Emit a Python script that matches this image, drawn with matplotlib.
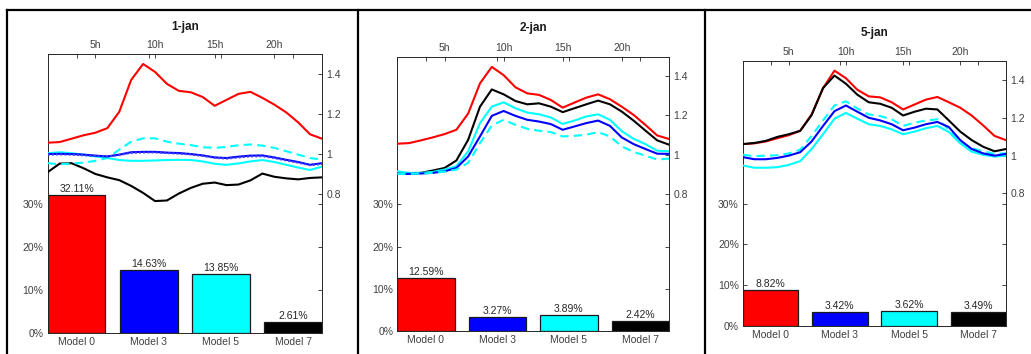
import numpy as np
import matplotlib
matplotlib.use('Agg')
import matplotlib.pyplot as plt
from matplotlib.lines import Line2D

plt.rcParams['font.family'] = ['Liberation Sans', 'DejaVu Sans']

W, H = 1031, 354

hours = np.arange(1, 25)
hour_ticks = [5, 10, 15, 20]
models = ['Model 0', 'Model 3', 'Model 5', 'Model 7']
bar_colors = ['#ff0000', '#0000ff', '#00ffff', '#000000']
days = ['1-jan', '2-jan', '5-jan']

# share of error per model (%)
share_1jan = [32.11, 14.63, 13.85, 2.61]
share_2jan = [12.59, 3.27, 3.89, 2.42]
share_5jan = [8.82, 3.42, 3.62, 3.49]

# hourly profiles, 1-jan
red_1jan = [1.055, 1.058, 1.075, 1.092, 1.105, 1.128, 1.21, 1.37, 1.45, 1.41, 1.35, 1.315,
            1.308, 1.284, 1.24, 1.27, 1.30, 1.31, 1.28, 1.246, 1.207, 1.157, 1.097, 1.075]
black_1jan = [0.907, 0.95, 0.952, 0.927, 0.898, 0.881, 0.867, 0.838, 0.803, 0.762, 0.765, 0.80,
              0.828, 0.849, 0.855, 0.842, 0.845, 0.866, 0.90, 0.884, 0.876, 0.871, 0.878, 0.881]
cyan_dash_1jan = [0.952, 0.947, 0.95, 0.955, 0.964, 0.978, 1.02, 1.06, 1.077, 1.077, 1.06, 1.05,
                  1.043, 1.032, 1.029, 1.034, 1.042, 1.046, 1.04, 1.029, 1.012, 0.995, 0.978, 0.97]
blue_1jan = [0.998, 0.999, 0.998, 0.995, 0.99, 0.986, 0.995, 1.007, 1.009, 1.009, 1.005, 1.003,
             0.998, 0.991, 0.981, 0.978, 0.985, 0.99, 0.991, 0.981, 0.969, 0.958, 0.944, 0.952]
blue_dot_1jan = [0.995, 0.996, 0.995, 0.992, 0.988, 0.986, 0.993, 1.004, 1.006, 1.006, 1.003, 1.0,
                 0.996, 0.989, 0.979, 0.975, 0.981, 0.986, 0.987, 0.978, 0.966, 0.955, 0.942, 0.948]
cyan_1jan = [1.002, 1.007, 1.002, 0.995, 0.986, 0.978, 0.968, 0.964, 0.964, 0.966, 0.968, 0.969,
             0.968, 0.961, 0.949, 0.944, 0.951, 0.961, 0.968, 0.958, 0.944, 0.93, 0.918, 0.935]

# hourly profiles, 2-jan
red_2jan = [1.056, 1.059, 1.073, 1.088, 1.105, 1.127, 1.21, 1.364, 1.448, 1.406, 1.344, 1.313,
            1.305, 1.279, 1.24, 1.266, 1.291, 1.308, 1.283, 1.245, 1.203, 1.152, 1.098, 1.08]
black_2jan = [0.904, 0.904, 0.907, 0.919, 0.932, 0.97, 1.076, 1.245, 1.333, 1.308, 1.274, 1.257,
              1.262, 1.245, 1.217, 1.237, 1.257, 1.276, 1.257, 1.22, 1.174, 1.123, 1.073, 1.051]
cyan_2jan = [0.915, 0.907, 0.907, 0.912, 0.924, 0.941, 1.017, 1.161, 1.245, 1.267, 1.237, 1.215,
             1.206, 1.19, 1.157, 1.174, 1.195, 1.206, 1.178, 1.12, 1.081, 1.054, 1.02, 1.017]
blue_2jan = [0.902, 0.902, 0.904, 0.907, 0.915, 0.932, 0.991, 1.093, 1.198, 1.223, 1.198, 1.178,
             1.169, 1.156, 1.127, 1.144, 1.161, 1.174, 1.147, 1.088, 1.054, 1.029, 1.005, 1.004]
cyan_dash_2jan = [0.902, 0.902, 0.904, 0.907, 0.913, 0.924, 0.958, 1.059, 1.149, 1.178, 1.152, 1.132,
                  1.122, 1.115, 1.093, 1.096, 1.102, 1.115, 1.093, 1.042, 1.014, 0.995, 0.975, 0.98]

# hourly profiles, 5-jan
red_5jan = [1.061, 1.065, 1.075, 1.092, 1.108, 1.131, 1.218, 1.357, 1.449, 1.409, 1.348, 1.313,
            1.308, 1.282, 1.244, 1.27, 1.296, 1.31, 1.282, 1.253, 1.212, 1.16, 1.104, 1.082]
black_5jan = [1.061, 1.067, 1.078, 1.099, 1.113, 1.131, 1.214, 1.357, 1.423, 1.38, 1.322, 1.282,
              1.274, 1.253, 1.212, 1.232, 1.248, 1.244, 1.186, 1.127, 1.082, 1.047, 1.023, 1.035]
cyan_dash_5jan = [1.005, 0.997, 1.0, 1.002, 1.012, 1.031, 1.104, 1.186, 1.265, 1.287, 1.249, 1.218,
                  1.209, 1.192, 1.157, 1.174, 1.186, 1.192, 1.139, 1.075, 1.039, 1.023, 1.009, 1.012]
blue_5jan = [0.992, 0.981, 0.981, 0.988, 1.0, 1.018, 1.075, 1.157, 1.235, 1.265, 1.232, 1.2,
             1.186, 1.166, 1.134, 1.148, 1.166, 1.178, 1.151, 1.082, 1.035, 1.012, 1.0, 1.009]
cyan_5jan = [0.948, 0.936, 0.936, 0.939, 0.951, 0.971, 1.035, 1.113, 1.195, 1.226, 1.195, 1.166,
             1.157, 1.139, 1.113, 1.127, 1.145, 1.157, 1.125, 1.065, 1.021, 1.004, 0.995, 1.0]

DASH = (0, (4, 2.5))
DOT = (0, (1, 1))

# (series, color, style) drawn in order
lines_1jan = [(red_1jan, '#ff0000', '-'), (black_1jan, '#000000', '-'),
              (cyan_dash_1jan, '#00ffff', DASH), (cyan_1jan, '#00ffff', '-'),
              (blue_1jan, '#0000ff', '-'), (blue_dot_1jan, '#4040ff', DOT)]
lines_2jan = [(red_2jan, '#ff0000', '-'), (black_2jan, '#000000', '-'),
              (cyan_2jan, '#00ffff', '-'), (blue_2jan, '#0000ff', '-'),
              (cyan_dash_2jan, '#00ffff', DASH)]
lines_5jan = [(red_5jan, '#ff0000', '-'), (black_5jan, '#000000', '-'),
              (cyan_dash_5jan, '#00ffff', DASH), (cyan_5jan, '#00ffff', '-'),
              (blue_5jan, '#0000ff', '-')]

# axes boxes in pixels: left, right, top, bottom
boxes = [(47.7, 322, 54, 333), (397.3, 669, 56.7, 331), (743, 1006, 61, 326)]
title_y = [27, 28, 33]

TXT = '#404040'

fig = plt.figure(figsize=(W / 100, H / 100), dpi=100)


def px_rect(l, r, t, b):
    return [l / W, 1 - b / H, (r - l) / W, (b - t) / H]


def draw_panel(box, day, ty, shares, series):
    rect = px_rect(*box)
    axb = fig.add_axes(rect)
    x = np.arange(1, 5)
    vals = np.array(shares) / 100
    axb.bar(x, vals, width=0.8, color=bar_colors, edgecolor='#1a1a1a', linewidth=0.9, zorder=2)
    for xi, v, s in zip(x, vals, shares):
        axb.text(xi, v + 0.002, '%.2f%%' % s, ha='center', va='bottom', fontsize=7.5, color='#262626')
    axb.set_xlim(0.6, 4.4)
    axb.set_ylim(0, 0.65)
    axb.set_xticks(x)
    axb.set_xticklabels(models)
    axb.set_yticks([0, 0.1, 0.2, 0.3])
    axb.set_yticklabels(['0%', '10%', '20%', '30%'])
    axb.tick_params(direction='in', length=3, width=0.6, top=True, right=True,
                    labelsize=7.5, labelcolor=TXT, color='#262626', pad=3)
    for sp in axb.spines.values():
        sp.set_linewidth(0.7)
        sp.set_color('#262626')

    axl = fig.add_axes(rect, frameon=False)
    for ys, c, ls in series:
        axl.plot(hours, ys, color=c, linestyle=ls, linewidth=1.5)
    axl.set_xlim(1, 24)
    axl.set_ylim(0.1, 1.5)
    axl.xaxis.tick_top()
    axl.yaxis.tick_right()
    axl.set_xticks(hour_ticks)
    axl.set_xticklabels(['%dh' % h for h in hour_ticks])
    axl.set_yticks([0.8, 1, 1.2, 1.4])
    axl.set_yticklabels(['0.8', '1', '1.2', '1.4'])
    axl.tick_params(direction='in', length=3, width=0.6, labelsize=7.5,
                    labelcolor=TXT, color='#262626', pad=3)
    cx = (box[0] + box[1]) / 2 / W
    fig.text(cx, 1 - ty / H, day, ha='center', va='center', fontsize=8.5,
             fontweight='bold', color='#1a1a1a')


draw_panel(boxes[0], days[0], title_y[0], share_1jan, lines_1jan)
draw_panel(boxes[1], days[1], title_y[1], share_2jan, lines_2jan)
draw_panel(boxes[2], days[2], title_y[2], share_5jan, lines_5jan)

# frame lines around each panel
ytop = 1 - 10 / H
fig.add_artist(Line2D([7 / W, 1], [ytop, ytop], color='black', linewidth=1.6))
for xb in [7.3, 357.7, 705]:
    fig.add_artist(Line2D([xb / W, xb / W], [0, ytop], color='black', linewidth=1.6))

fig.savefig('out.png', dpi=100)
